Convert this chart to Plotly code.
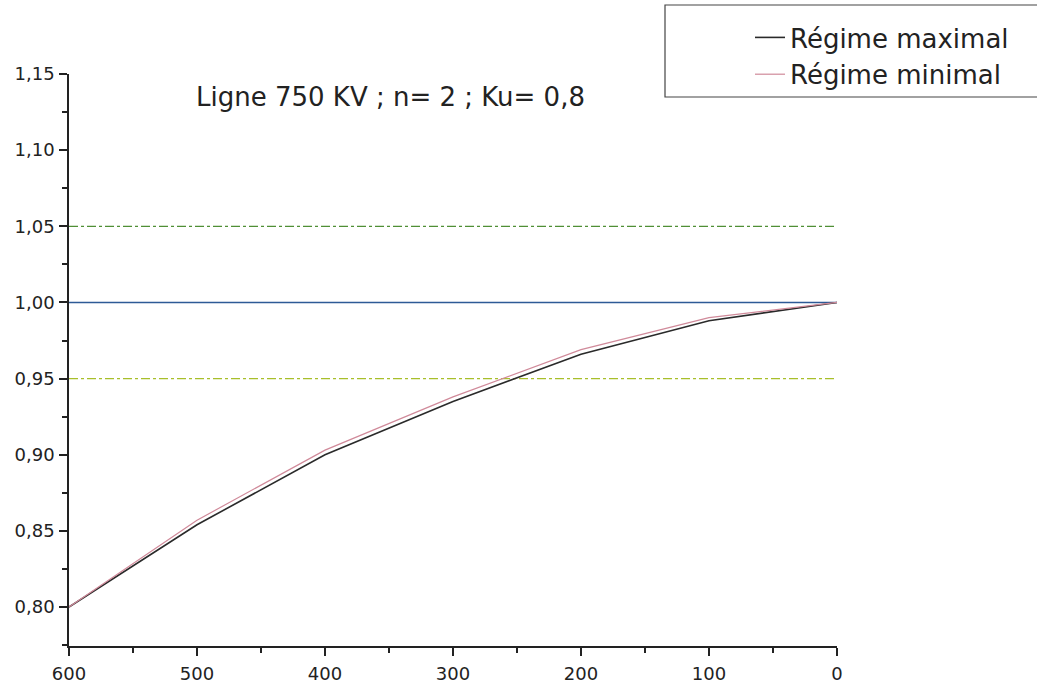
import plotly.graph_objects as go

# Longueur de ligne (km) et tension relative
distance_km = [600, 500, 400, 300, 200, 100, 0]
regime_maximal = [0.800, 0.854, 0.900, 0.935, 0.966, 0.988, 1.000]
regime_minimal = [0.800, 0.857, 0.903, 0.938, 0.969, 0.990, 1.000]

# Niveaux de référence : nominal et limites ±5 %
niveau_nominal = 1.00
limite_haute = 1.05
limite_basse = 0.95
x_span = [600, 0]

y_ticks = [0.80, 0.85, 0.90, 0.95, 1.00, 1.05, 1.10, 1.15]
x_ticks = [600, 500, 400, 300, 200, 100, 0]

FONT = "DejaVu Sans"

fig = go.Figure()

fig.add_trace(go.Scatter(
    x=x_span, y=[limite_haute] * 2, mode="lines", showlegend=False,
    line=dict(color="#4f8f35", width=1.2, dash="dashdot"), hoverinfo="skip"))
fig.add_trace(go.Scatter(
    x=x_span, y=[limite_basse] * 2, mode="lines", showlegend=False,
    line=dict(color="#a8bf2a", width=1.2, dash="dashdot"), hoverinfo="skip"))
fig.add_trace(go.Scatter(
    x=x_span, y=[niveau_nominal] * 2, mode="lines", showlegend=False,
    line=dict(color="#2d5a96", width=1.6), hoverinfo="skip"))

fig.add_trace(go.Scatter(
    x=distance_km, y=regime_maximal, mode="lines", name="Régime maximal",
    line=dict(color="#2a2a2a", width=1.6)))
fig.add_trace(go.Scatter(
    x=distance_km, y=regime_minimal, mode="lines", name="Régime minimal",
    line=dict(color="#d08a9a", width=1.2)))

# Plot area: 69..837 px horizontally, 74..646 px vertically
L, R, T, B = 69, 200, 74, 46
W, H = 1037, 692
pw, ph = W - L - R, H - T - B


def px_x(px):
    return (px - L) / pw


def px_y(py):
    return (H - B - py) / ph


fig.add_shape(type="path", xref="paper", yref="paper",
              path=f"M {px_x(1045)},{px_y(5)} L {px_x(665)},{px_y(5)} "
                   f"L {px_x(665)},{px_y(97)} L {px_x(1045)},{px_y(97)}",
              line=dict(color="#444", width=1.2))

fig.add_annotation(text="Ligne 750 KV ; n= 2 ; Ku= 0,8",
                   xref="paper", yref="paper", x=px_x(194), y=px_y(97),
                   xanchor="left", yanchor="middle", showarrow=False,
                   font=dict(family=FONT, size=26, color="#222"))

fig.update_layout(
    width=W, height=H,
    margin=dict(l=L, r=R, t=T, b=B, autoexpand=False),
    paper_bgcolor="white", plot_bgcolor="white",
    separators=",.",
    font=dict(family=FONT, color="#222"),
    showlegend=True,
    legend=dict(x=px_x(750), y=px_y(14), xanchor="left", yanchor="top",
                bgcolor="rgba(0,0,0,0)", borderwidth=0,
                font=dict(family=FONT, size=26, color="#222"),
                tracegroupgap=0),
    xaxis=dict(range=[600, 0], tickvals=x_ticks, ticks="outside", ticklen=8,
               tickwidth=1.5, tickcolor="#222", showline=True, linecolor="#222",
               linewidth=1.5, showgrid=False, zeroline=False,
               ticklabelstandoff=3, automargin=False,
               tickfont=dict(family=FONT, size=18, color="#222"),
               minor=dict(dtick=50, tick0=0, ticks="outside", ticklen=5,
                          tickwidth=1.5, tickcolor="#222", showgrid=False)),
    yaxis=dict(range=[0.7744, 1.15], tickvals=y_ticks, tickformat=".2f",
               ticks="outside", ticklen=8, tickwidth=1.5, tickcolor="#222",
               ticklabelstandoff=1, automargin=False,
               showline=True, linecolor="#222", linewidth=1.5,
               showgrid=False, zeroline=False,
               tickfont=dict(family=FONT, size=18, color="#222"),
               minor=dict(dtick=0.025, tick0=0.8, ticks="outside", ticklen=5,
                          tickwidth=1.5, tickcolor="#222", showgrid=False)),
)

fig.write_html("out.html")
